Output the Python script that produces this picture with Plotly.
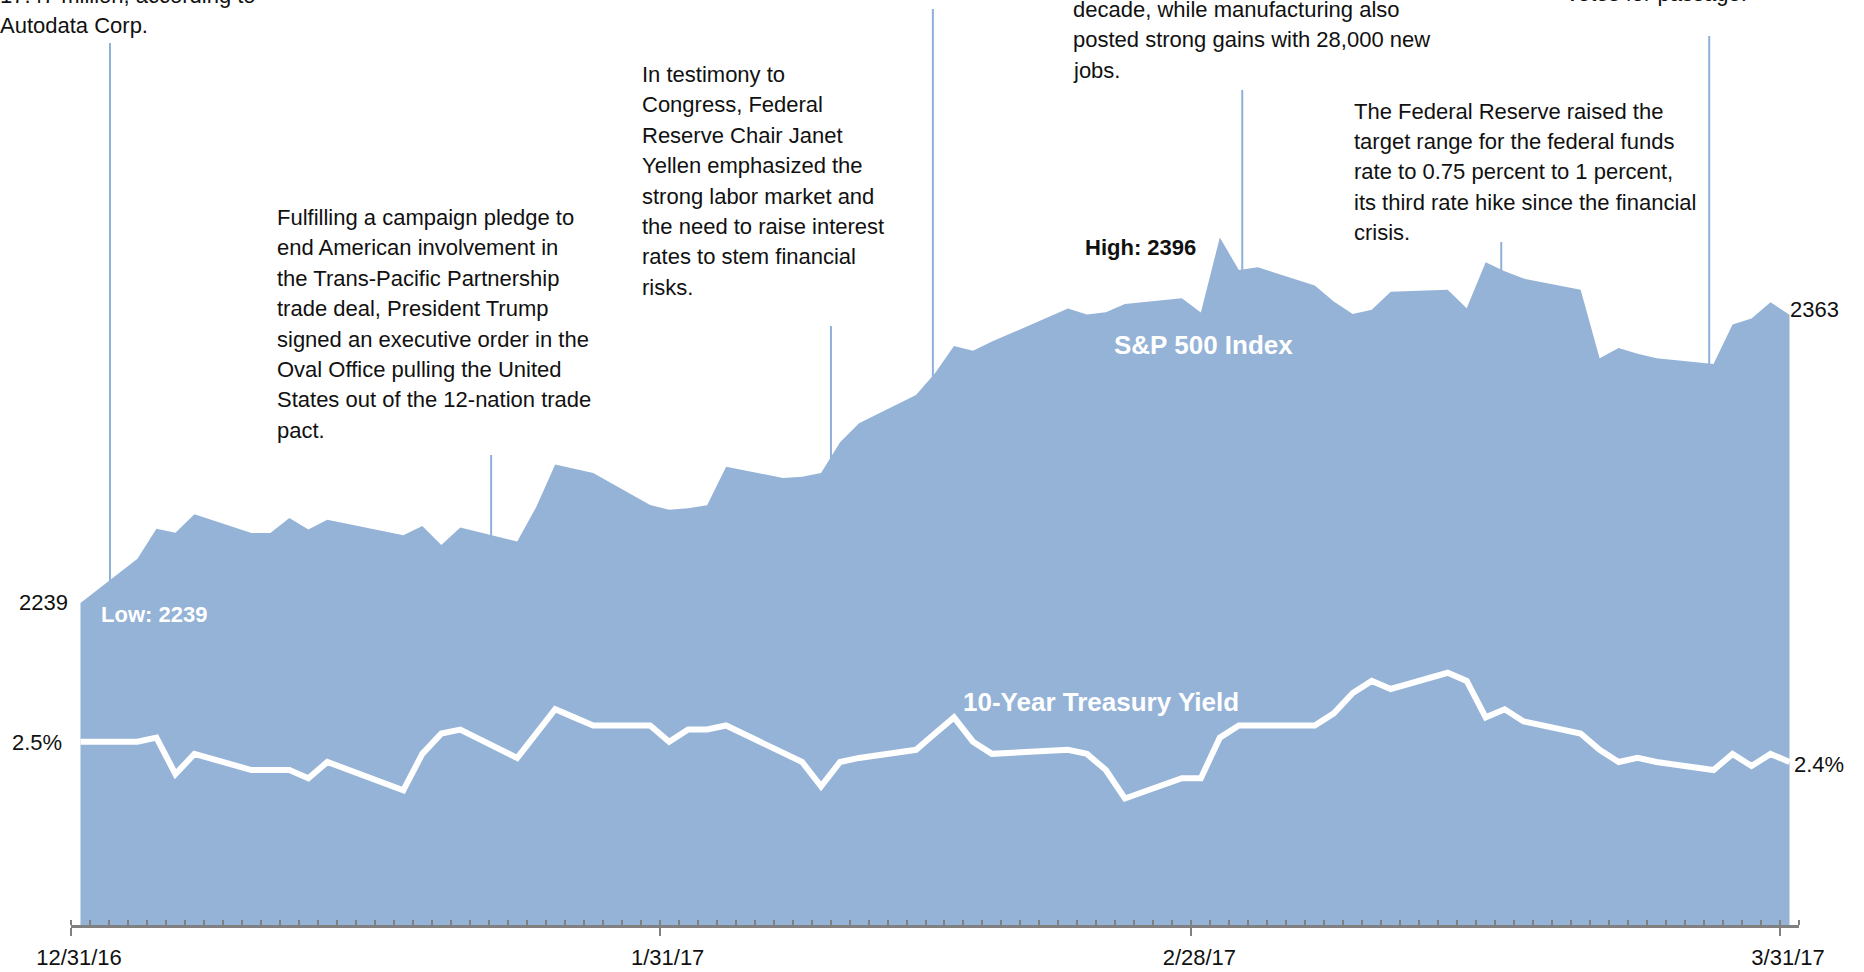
import plotly.graph_objects as go

# ---------------- data ----------------
dates = ["2016-12-31",
         "2017-01-03", "2017-01-04", "2017-01-05", "2017-01-06", "2017-01-09", "2017-01-10",
         "2017-01-11", "2017-01-12", "2017-01-13", "2017-01-17", "2017-01-18", "2017-01-19",
         "2017-01-20", "2017-01-23", "2017-01-24", "2017-01-25", "2017-01-26", "2017-01-27",
         "2017-01-30", "2017-01-31",
         "2017-02-01", "2017-02-02", "2017-02-03", "2017-02-06", "2017-02-07", "2017-02-08",
         "2017-02-09", "2017-02-10", "2017-02-13", "2017-02-14", "2017-02-15", "2017-02-16",
         "2017-02-17", "2017-02-21", "2017-02-22", "2017-02-23", "2017-02-24", "2017-02-27",
         "2017-02-28",
         "2017-03-01", "2017-03-02", "2017-03-03", "2017-03-06", "2017-03-07", "2017-03-08",
         "2017-03-09", "2017-03-10", "2017-03-13", "2017-03-14", "2017-03-15", "2017-03-16",
         "2017-03-17", "2017-03-20", "2017-03-21", "2017-03-22", "2017-03-23", "2017-03-24",
         "2017-03-27", "2017-03-28", "2017-03-29", "2017-03-30", "2017-03-31"]

sp500 = [2238.83,
         2257.83, 2270.75, 2269.00, 2276.98, 2268.90, 2268.90,
         2275.32, 2270.44, 2274.64, 2267.89, 2271.89, 2263.69,
         2271.31, 2265.20, 2280.07, 2298.37, 2296.68, 2294.69,
         2280.90, 2278.87,
         2279.55, 2280.85, 2297.42, 2292.56, 2293.08, 2294.67,
         2307.87, 2316.10, 2328.25, 2337.58, 2349.25, 2347.22,
         2351.16, 2365.38, 2362.82, 2363.81, 2367.34, 2369.75,
         2363.64,
         2395.96, 2381.92, 2383.12, 2375.31, 2368.39, 2362.98,
         2364.87, 2372.60, 2373.47, 2365.45, 2385.26, 2381.38,
         2378.25, 2373.47, 2344.02, 2348.45, 2345.96, 2343.98,
         2341.59, 2358.57, 2361.13, 2368.06, 2362.72]

yield10 = [2.45,
           2.45, 2.46, 2.37, 2.42, 2.38, 2.38,
           2.38, 2.36, 2.40, 2.33, 2.42, 2.47,
           2.48, 2.41, 2.47, 2.53, 2.51, 2.49,
           2.49, 2.45,
           2.48, 2.48, 2.49, 2.42, 2.40, 2.34,
           2.40, 2.41, 2.43, 2.47, 2.51, 2.45,
           2.42, 2.43, 2.42, 2.38, 2.31, 2.36,
           2.36,
           2.46, 2.49, 2.49, 2.49, 2.52, 2.57,
           2.60, 2.58, 2.62, 2.60, 2.51, 2.53,
           2.50, 2.47, 2.43, 2.40, 2.41, 2.40,
           2.38, 2.42, 2.39, 2.42, 2.40]

tick_labels = ["12/31/16", "1/31/17", "2/28/17", "3/31/17"]
tick_positions = ["2016-12-30 12:00", "2017-01-30 12:00", "2017-02-27 12:00", "2017-03-30 12:00"]

# event notes: (leader line date, leader top px, text left px, first line centre px, lines)
events = [
    ("2017-01-01 13:15", 43, -2, -4.5,
     ["17.47 million, according to", "Autodata Corp."]),
    ("2017-01-21 15:00", 455, 275, 217.5,
     ["Fulfilling a campaign pledge to", "end American involvement in",
      "the Trans-Pacific Partnership", "trade deal, President Trump",
      "signed an executive order in the", "Oval Office pulling the United",
      "States out of the 12-nation trade", "pact."]),
    ("2017-02-08 12:30", 326, 640, 74.5,
     ["In testimony to", "Congress, Federal", "Reserve Chair Janet",
      "Yellen emphasized the", "strong labor market and",
      "the need to raise interest", "rates to stem financial", "risks."]),
    ("2017-02-13 21:20", 9, None, None, []),
    ("2017-03-02 04:20", 90, 1071, 9.5,
     ["decade, while manufacturing also", "posted strong gains with 28,000 new", "jobs."]),
    ("2017-03-15 19:40", 242, 1352, 111,
     ["The Federal Reserve raised the", "target range for the federal funds",
      "rate to 0.75 percent to 1 percent,", "its third rate hike since the financial",
      "crisis."]),
    ("2017-03-26 18:30", 36, 1565, -6.5, ["votes for passage."]),
]

# ---------------- layout geometry ----------------
W, H = 1864, 972
ML, MR, MT, MB = 71, 65, 0, 47
PW, PH = W - ML - MR, H - MT - MB
LINE_GAP = 30.4

def px2x(px):
    return (px - ML) / PW

def py2y(py):
    return (PH + MT - py) / PH

AREA = "#95B3D7"
LEADER = "#8FB0DA"
BODY_FONT = "Liberation Sans, Arial, sans-serif"
NUM_FONT = "Liberation Sans, Arial, sans-serif"
NUM_SIZE = 22

fig = go.Figure()
fig.add_trace(go.Scatter(x=dates, y=sp500, mode="lines", fill="tozeroy",
                         fillcolor=AREA, line=dict(width=0, color=AREA),
                         hoverinfo="skip", showlegend=False))
fig.add_trace(go.Scatter(x=dates, y=yield10, mode="lines", yaxis="y2",
                         line=dict(width=6, color="white"),
                         hoverinfo="skip", showlegend=False))

shapes = []
annotations = []
for ldate, ltop, tleft, tfirst, lines in events:
    shapes.append(dict(type="line", xref="x", yref="paper", x0=ldate, x1=ldate,
                       y0=0.3, y1=py2y(ltop), layer="below",
                       line=dict(color=LEADER, width=2)))
    for i, ln in enumerate(lines):
        annotations.append(dict(xref="paper", yref="paper", x=px2x(tleft),
                                y=py2y(tfirst + i * LINE_GAP), text=ln,
                                xanchor="left", yanchor="middle", showarrow=False,
                                font=dict(family=BODY_FONT, size=22, color="#111111")))

# value labels anchored to data
annotations += [
    dict(x=dates[0], y=sp500[0], xref="x", yref="y", text=f"{sp500[0]:.0f}",
         xanchor="right", yanchor="middle", xshift=-10, showarrow=False,
         font=dict(family=NUM_FONT, size=NUM_SIZE, color="#111111")),
    dict(x=dates[-1], y=sp500[-1], xref="x", yref="y", text=f"{sp500[-1]:.0f}",
         xanchor="left", yanchor="middle", xshift=-2, yshift=5, showarrow=False,
         font=dict(family=NUM_FONT, size=NUM_SIZE, color="#111111")),
    dict(x=dates[0], y=yield10[0], xref="x", yref="y2", text="2.5%",
         xanchor="right", yanchor="middle", xshift=-16, yshift=-1, showarrow=False,
         font=dict(family=NUM_FONT, size=NUM_SIZE, color="#111111")),
    dict(x=dates[-1], y=yield10[-1], xref="x", yref="y2", text="2.4%",
         xanchor="left", yanchor="middle", xshift=2, yshift=-3, showarrow=False,
         font=dict(family=NUM_FONT, size=NUM_SIZE, color="#111111")),
    dict(x=dates[0], y=min(sp500), xref="x", yref="y", text=f"Low: {min(sp500):.0f}",
         xanchor="left", yanchor="middle", xshift=19, yshift=-12, showarrow=False,
         font=dict(family=BODY_FONT, size=22, color="white", weight="bold")),
    dict(x=dates[sp500.index(max(sp500))], y=max(sp500), xref="x", yref="y",
         text=f"High: {max(sp500):.0f}", xanchor="right", yanchor="middle",
         xshift=-22, yshift=-10, showarrow=False,
         font=dict(family=BODY_FONT, size=22, color="#111111", weight="bold")),
    dict(xref="paper", yref="paper", x=px2x(1203.5), y=py2y(345), text="S&P 500 Index",
         xanchor="center", yanchor="middle", showarrow=False,
         font=dict(family=BODY_FONT, size=26, color="white", weight="bold")),
    dict(xref="paper", yref="paper", x=px2x(1100.5), y=py2y(702),
         text="10-Year Treasury Yield", xanchor="center", yanchor="middle", showarrow=False,
         font=dict(family=BODY_FONT, size=26, color="white", weight="bold")),
]

fig.update_layout(
    width=W, height=H,
    margin=dict(l=ML, r=MR, t=MT, b=MB, pad=0, autoexpand=False),
    paper_bgcolor="white", plot_bgcolor="white",
    showlegend=False,
    shapes=shapes,
    annotations=annotations,
    xaxis=dict(type="date", range=["2016-12-30 12:00", "2017-03-31 12:00"],
               automargin=False,
               showgrid=False, zeroline=False,
               showline=True, linecolor="#808080", linewidth=3,
               tickmode="array", tickvals=tick_positions, ticktext=tick_labels,
               ticks="outside", ticklen=8, tickwidth=2, tickcolor="#808080",
               ticklabelshift=8, ticklabelstandoff=3,
               tickfont=dict(family=NUM_FONT, size=NUM_SIZE, color="#111111"),
               minor=dict(tickmode="linear", tick0="2016-12-30 12:00", dtick=86400000,
                          ticks="inside", ticklen=5, tickwidth=2, tickcolor="#808080",
                          showgrid=False)),
    yaxis=dict(range=[2100.4, 2498.0], visible=False, showgrid=False, zeroline=False,
               automargin=False),
    yaxis2=dict(range=[1.998, 4.279], overlaying="y", visible=False,
                showgrid=False, zeroline=False, automargin=False),
)

fig.write_html("out.html")
